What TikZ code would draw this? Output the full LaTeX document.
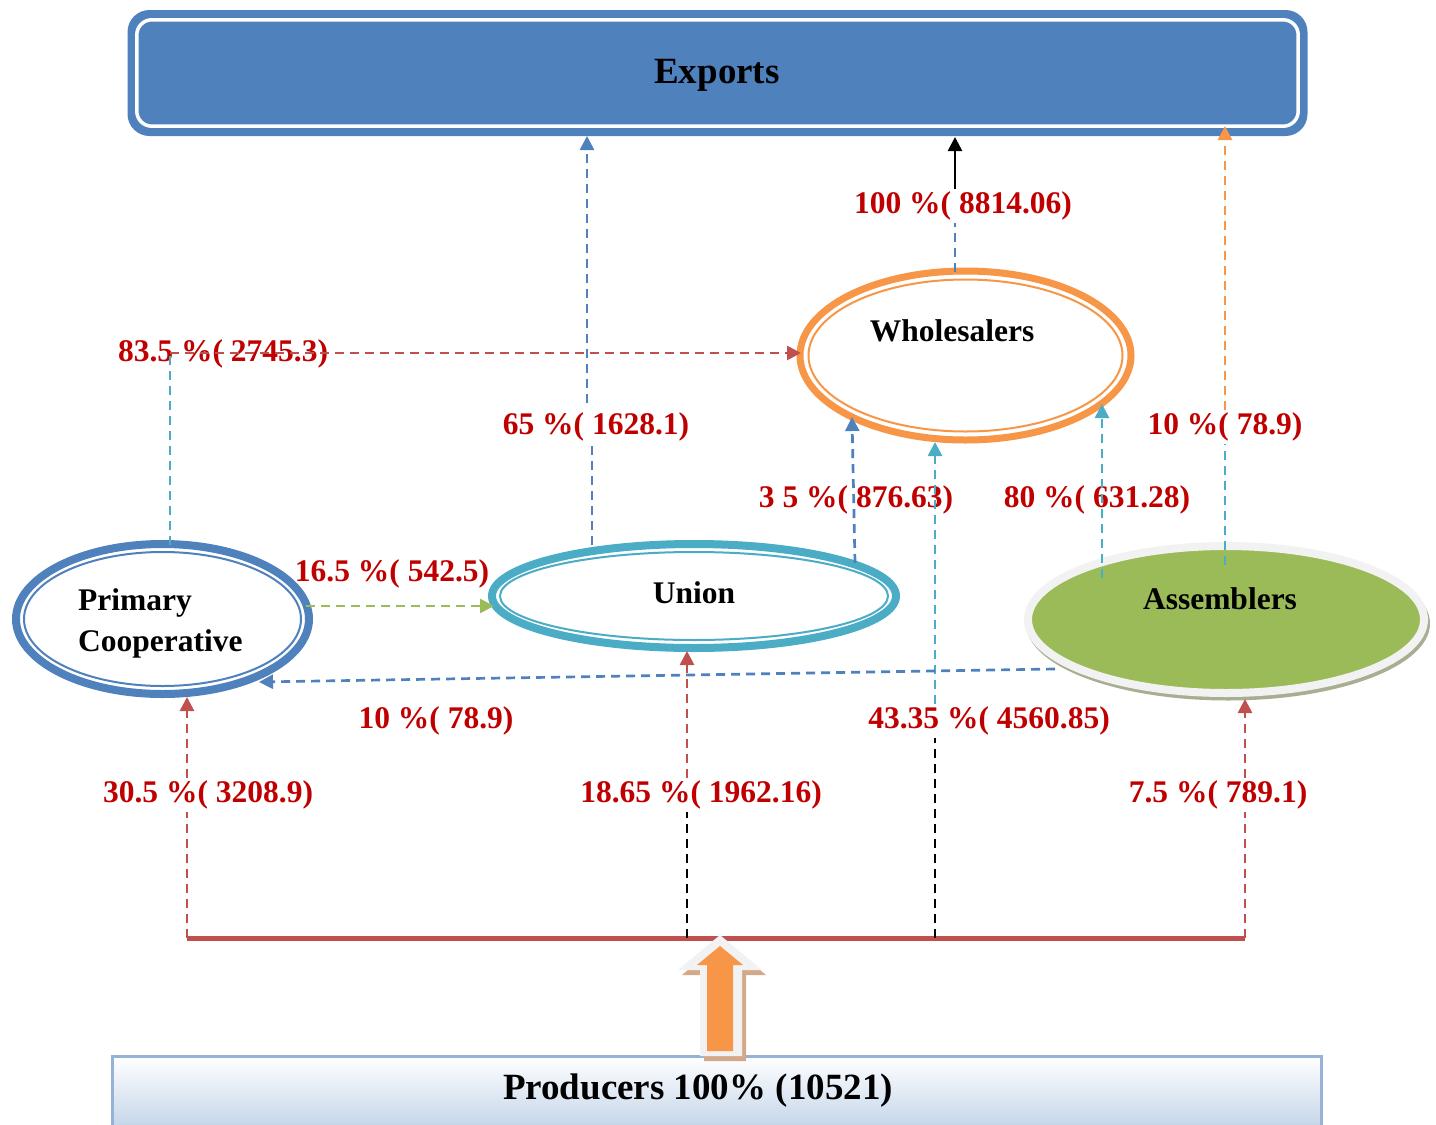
\documentclass[tikz,border=0pt]{standalone}
\usepackage{fontspec}
\setmainfont{Liberation Serif}
\usetikzlibrary{arrows.meta,shapes.geometric,calc}
\definecolor{expblue}{HTML}{4F81BD}
\definecolor{wsorange}{HTML}{F79646}
\definecolor{tealc}{HTML}{4BACC6}
\definecolor{grn}{HTML}{9BBB59}
\definecolor{redline}{HTML}{C0504D}
\definecolor{labred}{HTML}{C00000}
\definecolor{prodblue}{HTML}{B9CDE5}
\definecolor{prodedge}{HTML}{95B3D7}
\definecolor{asmshadow}{HTML}{A8AE92}
\definecolor{arrshadow}{HTML}{D3A98A}
\definecolor{lgray}{HTML}{F2F2F2}
\begin{document}
\begin{tikzpicture}[x=1pt,y=-1pt,
  lab/.style={text=labred, font=\fontsize{31.5}{36}\selectfont\bfseries, inner sep=3pt},
  nodetext/.style={font=\fontsize{31.5}{41}\selectfont\bfseries, inner sep=0pt},
  dline/.style={line width=2.7pt, dash pattern=on 9pt off 6pt},
  withtip/.style={-{Triangle[length=14pt,width=14pt]}},
]
\fill[white] (0,0) rectangle (1436,1125);
\useasboundingbox (0,0) rectangle (1436,1125);

% ---------- Exports ----------
\node[fill=expblue, rounded corners=22pt, minimum width=1180pt, minimum height=126pt, inner sep=0pt] (exp) at (717.5,73) {};
\draw[white, line width=3.5pt, rounded corners=15pt] ($(exp.south west)+(9.5,-10)$) rectangle ($(exp.north east)+(-9.5,10)$);
\node[font=\fontsize{37}{40}\selectfont\bfseries, inner sep=0pt] (exptext) at (717,75) {Exports};

% ---------- Wholesalers ----------
\node[ellipse, draw=wsorange, fill=white, line width=7pt, minimum width=331pt, minimum height=169pt, inner sep=0pt] (ws) at (965.5,355.5) {};
\draw[wsorange, line width=2pt] (ws.center) ellipse [x radius=157, y radius=76];
\node[nodetext] (wstext) at (952,331) {Wholesalers};

% ---------- Primary Cooperative ----------
\node[ellipse, draw=expblue, fill=white, line width=8pt, minimum width=293pt, minimum height=150pt, inner sep=0pt] (pc) at (162.5,619) {};
\draw[expblue, line width=2pt] (pc.center) ellipse [x radius=138.5, y radius=67];
\node[nodetext, align=left, anchor=west] (pctext) at (78,623) {Primary\\Cooperative};

% ---------- Union ----------
\node[ellipse, draw=tealc, fill=white, line width=8pt, minimum width=404pt, minimum height=104pt, inner sep=0pt] (un) at (694,596) {};
\draw[tealc, line width=2pt] (un.center) ellipse [x radius=194, y radius=44];
\node[nodetext] (untext) at (694,593) {Union};

% ---------- Assemblers ----------
\fill[asmshadow] (1228,623.5) ellipse [x radius=202, y radius=77];
\node[ellipse, draw=lgray, fill=grn, line width=8pt, minimum width=396pt, minimum height=147pt, inner sep=0pt] (asm) at (1226,619.5) {};
\node[nodetext] (astext) at (1220,599) {Assemblers};

% ---------- Producers ----------
\node[rectangle, draw=prodedge, line width=2.5pt, top color=white, bottom color=prodblue, minimum width=1209pt, minimum height=85pt, inner sep=0pt, anchor=north west] (prod) at (111,1055) {};
\node[font=\fontsize{37}{40}\selectfont\bfseries, inner sep=0pt] (prodtext) at (698,1091) {Producers 100\% (10521)};

% ---------- bar ----------
\coordinate (b30) at (187,938);
\coordinate (b18) at (687,938);
\coordinate (b43) at (935,938);
\coordinate (b75) at (1245,938);
\draw[redline, line width=5pt] (b30) -- (b75);

% ---------- big arrow ----------
\fill[arrshadow] (724,940) -- (766,975) -- (746,975) -- (746,1061) -- (704,1061) -- (704,975) -- (682,975) -- cycle;
\fill[lgray] (720,935) -- (762,970) -- (742,970) -- (742,1056) -- (700,1056) -- (700,970) -- (678,970) -- cycle;
\fill[wsorange] (720,946) -- (743,965) -- (733,965) -- (733,1051) -- (707,1051) -- (707,965) -- (697,965) -- cycle;

% ---------- labels ----------
\node[lab] (l100) at (963,206) {100 \%( 8814.06)};
\node[lab] (l835) at (223,354) {83.5 \%( 2745.3)};
\node[lab] (l65) at (596,427) {65 \%( 1628.1)};
\node[lab] (l10r) at (1225,427) {10 \%( 78.9)};
\node[lab] (l35) at (856,500) {3 5 \%( 876.63)};
\node[lab] (l80) at (1097,500) {80 \%( 631.28)};
\node[lab] (l165) at (392,574) {16.5 \%( 542.5)};
\node[lab] (l10l) at (436,721) {10 \%( 78.9)};
\node[lab] (l43) at (989,721) {43.35 \%( 4560.85)};
\node[lab] (l30) at (208,795) {30.5 \%( 3208.9)};
\node[lab] (l18) at (701,795) {18.65 \%( 1962.16)};
\node[lab] (l75) at (1218,795) {7.5 \%( 789.1)};

% ---------- connector end points ----------
\coordinate (pcB) at (187,697);
\coordinate (unB) at (687,651);
\coordinate (wsB) at (935,442);
\coordinate (asB) at (1245,699);
\coordinate (pcR) at (306,606);
\coordinate (unL) at (494,606);
\coordinate (asL) at (1055,669);
\coordinate (pcBR) at (259,682);
\coordinate (pcT) at (170,545);
\coordinate (corner) at (170,353);
\coordinate (wsL) at (801,353);
\coordinate (unT1) at (592,545);
\coordinate (l65up) at (587,403);
\coordinate (expB1) at (587,136);
\coordinate (unT2) at (855,563);
\coordinate (wsBL) at (852,417);
\coordinate (asT1) at (1102,578);
\coordinate (wsBR) at (1102,404);
\coordinate (asT2) at (1225,565);
\coordinate (expB2) at (1225,126);
\coordinate (wsT) at (955,272);
\coordinate (expB3) at (955,137);

% ---------- connectors ----------
\draw[dline, redline] (b30) -- (b30 |- l30.south);
\draw[dline, redline, withtip] (b30 |- l30.north) -- (pcB);

\draw[dline, black] (b18) -- (b18 |- l18.south);
\draw[dline, redline, withtip] (b18 |- l18.north) -- (unB);

\draw[dline, black] (b43) -- (b43 |- l43.south);
\draw[dline, tealc, withtip] (b43 |- l43.north) -- (wsB);

\draw[dline, redline] (b75) -- (b75 |- l75.south);
\draw[dline, redline, withtip] (b75 |- l75.north) -- (asB);

\draw[dline, grn, withtip] (pcR) -- (unL);
\draw[dline, expblue, withtip] (asL) -- (pcBR);

\draw[dline, tealc] (pcT) -- (corner);
\draw[dline, redline, withtip] (corner) -- (wsL);

\draw[dline, expblue] (unT1) -- (unT1 |- l65.south);
\draw[dline, expblue, withtip] (l65up) -- (expB1);

\draw[dline, expblue, withtip] (unT2) -- (wsBL);
\draw[dline, tealc, withtip] (asT1) -- (wsBR);

\draw[dline, tealc] (asT2) -- (asT2 |- l10r.south);
\draw[dline, wsorange, withtip] (asT2 |- l10r.north) -- (expB2);

\draw[dline, expblue] (wsT) -- (wsT |- l100.south);
\draw[line width=2.7pt, black, withtip] (wsT |- l100.north) -- (expB3);
\end{tikzpicture}
\end{document}
